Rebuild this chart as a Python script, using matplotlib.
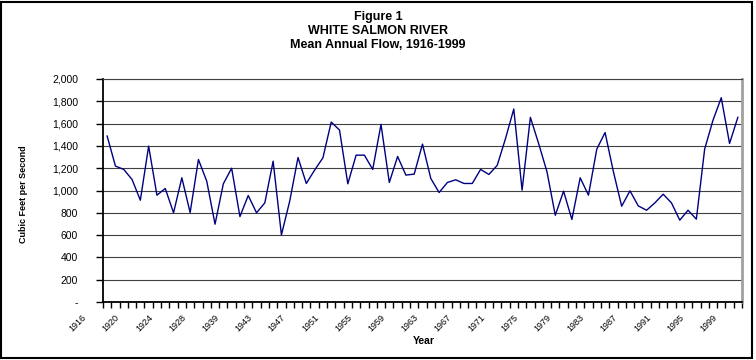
import matplotlib
matplotlib.use("Agg")
import matplotlib.pyplot as plt
import matplotlib.transforms as mtransforms
from matplotlib.patches import Rectangle
from matplotlib.ticker import FuncFormatter
import numpy as np

# Years on the category axis (gap between 1931 and 1939 as in the source chart)
years = list(range(1916, 1932)) + list(range(1939, 2000))

# Mean annual flow, cubic feet per second
flows = [1488, 1219, 1189, 1099, 913, 1398, 958, 1018, 800, 1114,
         802, 1278, 1084, 698, 1060, 1200, 766, 955, 800, 889,
         1263, 602, 905, 1296, 1063, 1183, 1293, 1614, 1542, 1060,
         1317, 1317, 1189, 1593, 1072, 1305, 1138, 1147, 1416, 1108,
         982, 1072, 1096, 1063, 1063, 1189, 1144, 1225, 1465, 1731,
         1003, 1656, 1420, 1168, 778, 994, 740, 1114, 958, 1371,
         1520, 1170, 859, 997, 862, 823, 889, 967, 889, 734,
         823, 743, 1371, 1629, 1832, 1422, 1656]

y_ticks = list(range(0, 2001, 200))

title_lines = ["Figure 1", "WHITE SALMON RIVER", "Mean Annual Flow, 1916-1999"]

plt.rcParams['font.family'] = ['Liberation Sans', 'DejaVu Sans']

fig = plt.figure(figsize=(7.56, 3.6), dpi=100)
ax = fig.add_axes([103 / 756, 1 - 302 / 360, 639 / 756, 223 / 360])

idx = np.arange(len(years))
ax.plot(idx, flows, color='#000080', lw=1.0)

# y axis
ax.set_ylim(0, 2000)
ax.set_yticks(y_ticks)
ax.yaxis.set_major_formatter(FuncFormatter(lambda v, p: '-' if v == 0 else f"{int(v):,}"))
ax.tick_params(axis='y', direction='out', length=5, width=1, pad=13, labelsize=7.5)
ax.grid(axis='y', color='#404040', lw=0.8)
ax.set_axisbelow(True)

# x axis: ticks between categories, label every fourth year
ax.set_xlim(-0.5, len(years) - 0.5)
ax.set_xticks(idx[::4])
ax.set_xticklabels([str(y) for y in years[::4]], rotation=45, ha='right', va='top')
ax.set_xticks(np.arange(-0.5, len(years)), minor=True)
ax.tick_params(axis='x', which='major', length=0, pad=8, labelsize=6.5)
ax.tick_params(axis='x', which='minor', direction='out', length=4, width=1)
shift = mtransforms.ScaledTranslation(-19 / 100, 0, fig.dpi_scale_trans)
for lab in ax.get_xticklabels():
    lab.set_transform(lab.get_transform() + shift)

for side in ['left', 'bottom']:
    ax.spines[side].set_color('black')
    ax.spines[side].set_linewidth(1.3)
ax.spines['right'].set_color('#a0a0a0')
ax.spines['right'].set_linewidth(2)
ax.spines['top'].set_color('#404040')
ax.spines['top'].set_linewidth(0.8)

# axis titles
fig.text(24 / 756, 1 - 194 / 360, "Cubic Feet per Second", rotation=90,
         ha='center', va='center', fontsize=6.5, fontweight='bold')
fig.text(424 / 756, 1 - 341 / 360, "Year", ha='center', va='center',
         fontsize=7.5, fontweight='bold')

# chart title
for i, line in enumerate(title_lines):
    fig.text(0.5, 1 - (17 + 14 * i) / 360, line, ha='center', va='center',
             fontsize=9, fontweight='bold')

# border round the whole chart
fig.patches.append(Rectangle((1 / 756, 2 / 360), 751 / 756, 356 / 360,
                             transform=fig.transFigure, fill=False,
                             edgecolor='black', lw=1.5))

fig.savefig("out.png", dpi=100)
